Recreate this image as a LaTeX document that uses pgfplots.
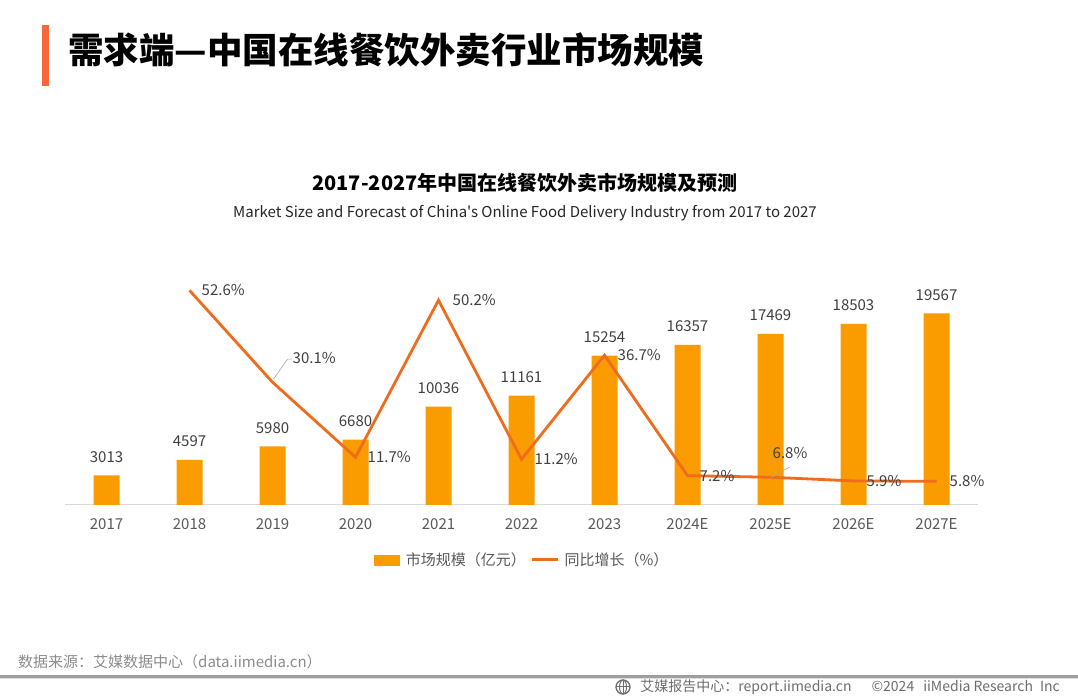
\documentclass[border=0pt]{standalone}
\usepackage{fontspec}
\setmainfont{Noto Sans CJK SC}
\newfontfamily\plainfont{Noto Sans CJK SC}
\usepackage{pgfplots}
\usepackage{pgfplotstable}
\pgfplotsset{compat=1.18}
\definecolor{barcol}{HTML}{FA9B00}
\definecolor{linecol}{HTML}{EE6C1E}
\definecolor{titlebar}{HTML}{F4683A}
\definecolor{lbl}{HTML}{404040}
\definecolor{tickc}{HTML}{595959}
\definecolor{axisgray}{HTML}{D9D9D9}
\definecolor{foot}{HTML}{8C8C8C}
\definecolor{foot2}{HTML}{6E6E6E}
\pgfplotstableread{
x size
0 3013
1 4597
2 5980
3 6680
4 10036
5 11161
6 15254
7 16357
8 17469
9 18503
10 19567
}\sizetable
\pgfplotstableread{
x growth
1 52.6
2 30.1
3 11.7
4 50.2
5 11.2
6 36.7
7 7.2
8 6.8
9 5.9
10 5.8
}\growthtable
\begin{document}
\begin{tikzpicture}[x=1pt,y=1pt]
\path[fill=white] (0,0) rectangle (1078,700);
\fill[titlebar] (42,614) rectangle (49,675);
\node[anchor=west, font=\fontsize{35.5}{40}\selectfont\bfseries, inner sep=0] at (68,650) {需求端—中国在线餐饮外卖行业市场规模};
\node[font=\fontsize{20}{24}\selectfont\bfseries, text=black, inner sep=0] at (525,517) {2017-2027年中国在线餐饮外卖市场规模及预测};
\node[font=\plainfont\fontsize{15}{18}\selectfont, text=black!85, inner sep=0] at (525,487) {Market Size and Forecast of China's Online Food Delivery Industry from 2017 to 2027};

\begin{axis}[at={(65pt,195pt)}, anchor=south west, scale only axis,
  width=913pt, height=235pt, xmin=-0.5, xmax=10.5, ymin=0, ymax=24000,
  axis y line=none, axis x line*=bottom, x axis line style={-, draw=axisgray, line width=1pt},
  xtick={0,...,10}, xticklabels={2017,2018,2019,2020,2021,2022,2023,2024E,2025E,2026E,2027E},
  major tick length=0pt,
  xticklabel style={font=\fontsize{15}{18}\selectfont, text=tickc, anchor=base, yshift=-25pt},
  ytick=\empty, clip=false,
  /pgf/number format/assume math mode=true, /pgf/number format/1000 sep={}]
\addplot[ybar, bar width=26pt, fill=barcol, draw=none,
  nodes near coords={\pgfmathprintnumber[fixed,precision=0]{\pgfplotspointmeta}},
  every node near coord/.append style={font=\fontsize{15}{18}\selectfont, text=lbl, anchor=base, yshift=13pt}]
  table[x=x, y=size]{\sizetable};
\end{axis}

\begin{axis}[at={(65pt,195pt)}, anchor=south west, scale only axis,
  width=913pt, height=235pt, xmin=-0.5, xmax=10.5, ymin=0, ymax=57.6,
  hide axis, clip=false,
  legend columns=2,
  legend style={at={(0.501,-0.234)}, anchor=center, draw=none, fill=none,
    font=\fontsize{15}{18}\selectfont, text=tickc,
    /tikz/every even column/.append style={column sep=3pt}}]
\addlegendimage{legend image code/.code={\fill[barcol] (0pt,-5pt) rectangle (25pt,5pt); \path (29pt,0pt);}}
\addlegendentry{市场规模（亿元）}
\addplot[linecol, line width=2.8pt, line join=miter, no marks,
  legend image code/.code={\draw[linecol, line width=3pt] (0pt,0pt) -- (26pt,0pt); \path (29pt,0pt);}]
  table[x=x, y=growth]{\growthtable};
\addlegendentry{同比增长（\%）}
\begin{scope}[every node/.style={font=\fontsize{15}{18}\selectfont, text=lbl, anchor=west, inner sep=0}]
\node[xshift=12pt] at (axis cs:1,52.6) {52.6\%};
\node[xshift=20pt, yshift=24pt] at (axis cs:2,30.1) {30.1\%};
\node[xshift=12pt] at (axis cs:3,11.7) {11.7\%};
\node[xshift=14pt] at (axis cs:4,50.2) {50.2\%};
\node[xshift=13pt] at (axis cs:5,11.2) {11.2\%};
\node[xshift=13pt] at (axis cs:6,36.7) {36.7\%};
\node[xshift=12pt] at (axis cs:7,7.2) {7.2\%};
\node[xshift=2pt, yshift=24pt] at (axis cs:8,6.8) {6.8\%};
\node[xshift=13pt] at (axis cs:9,5.9) {5.9\%};
\node[xshift=13pt] at (axis cs:10,5.8) {5.8\%};
\end{scope}
\draw[gray!70, line width=0.6pt] ([shift={(1pt,3pt)}]axis cs:2,30.1) -- ++(14pt,20pt) -- ++(4pt,0pt);
\draw[gray!70, line width=0.6pt] ([shift={(1pt,0pt)}]axis cs:8,6.8) -- ++(18pt,10pt);
\end{axis}

\node[anchor=west, font=\fontsize{15}{18}\selectfont, text=foot, inner sep=0] at (18,38) {数据来源：艾媒数据中心（data.iimedia.cn）};
\fill[gray!75] (0,22) rectangle (1078,24.5);
\fill[gray!25] (0,20.5) rectangle (1078,22);
\begin{scope}[shift={(623,13)}]
\draw[foot2, line width=1.3pt] (0,0) circle (7);
\draw[foot2, line width=1pt] (-7,0) -- (7,0) (0,-7) -- (0,7);
\draw[foot2, line width=1pt] (0,0) ellipse (3.5 and 7);
\end{scope}
\node[anchor=east, font=\fontsize{14}{17}\selectfont, text=foot2, inner sep=0] at (1060,13) {艾媒报告中心：report.iimedia.cn\hspace{20pt}©2024\hspace{9pt}iiMedia Research\hspace{7pt}Inc};
\end{tikzpicture}
\end{document}
